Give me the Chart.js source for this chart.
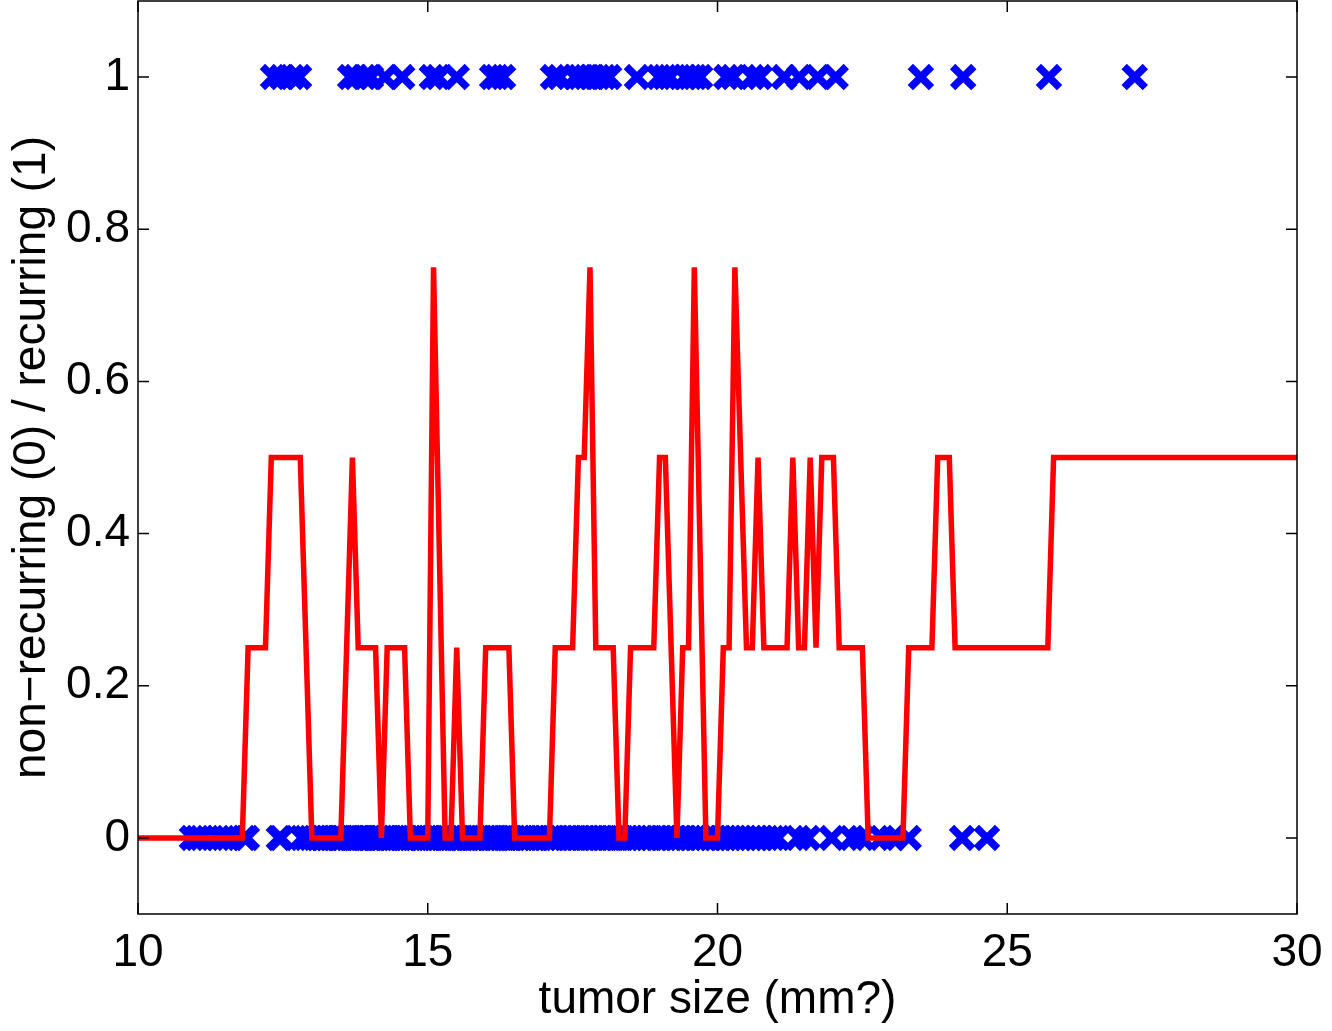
<!DOCTYPE html>
<html><head><meta charset="utf-8">
<script src="https://cdn.jsdelivr.net/npm/chart.js@4/dist/chart.umd.min.js"></script>
<style>html,body{margin:0;padding:0;background:#fff;} canvas{display:block;}</style>
</head><body>
<canvas id="c" width="1332" height="1031"></canvas>
<script>
// ---- data ----
const recurringX = [12.33, 12.48, 12.66, 12.78,
  13.66, 13.76, 13.90, 14.02, 14.26, 14.56,
  15.07, 15.18, 15.50,
  16.11, 16.19, 16.30,
  17.16, 17.28, 17.54, 17.63, 17.73, 17.83, 17.94, 18.04, 18.13,
  18.61, 18.99, 19.09, 19.18, 19.44, 19.53, 19.61, 19.70,
  20.15, 20.27, 20.60, 20.73, 21.15, 21.41, 21.73, 22.04,
  23.51, 24.24, 25.72, 27.20];
const nonRecurringX = [10.93, 11.02, 11.10, 11.38, 11.47, 11.55, 11.83, 11.88,
  12.43, 12.47, 12.83, 12.90, 12.98, 13.05, 13.11, 13.17, 13.20, 13.27, 13.34, 13.40,
  13.46, 13.50, 13.53, 13.61, 13.66, 13.70, 13.74, 13.80, 13.85, 13.90, 13.94, 14.00,
  14.06, 14.10, 14.15, 14.20, 14.27, 14.30, 14.36, 14.42, 14.48, 14.53, 14.60, 14.64,
  14.70, 14.75, 14.80, 14.86, 14.90, 14.97, 15.02, 15.08, 15.12, 15.19, 15.25, 15.30,
  15.33, 15.40, 15.45, 15.50, 15.56, 15.60, 15.66, 15.70, 15.76, 15.80, 15.87, 15.92,
  15.98, 16.04, 16.10, 16.16, 16.20, 16.27, 16.34, 16.40, 16.45, 16.50, 16.58, 16.63,
  16.70, 16.77, 16.84, 16.90, 16.95, 17.02, 17.10, 17.15, 17.22, 17.30, 17.38, 17.45,
  17.52, 17.60, 17.68, 17.75, 17.83, 17.90, 17.98, 18.05, 18.13, 18.20, 18.28, 18.36,
  18.44, 18.52, 18.60, 18.70, 18.78, 18.86, 18.95, 19.03, 19.10, 19.20, 19.28, 19.37,
  19.45, 19.53, 19.62, 19.70, 19.80, 19.88, 19.96, 20.05, 20.13, 20.22, 20.30, 20.40,
  20.48, 20.57, 20.66, 20.75, 20.85, 20.95,
  21.04, 21.39, 21.56, 21.97, 22.32, 22.49, 22.84, 23.02, 23.30,
  24.22, 24.65];
const fitX = [10, 11.8, 11.9, 12.2, 12.3, 12.8, 13.0, 13.5, 13.7, 13.8, 14.1, 14.2, 14.3, 14.6, 14.7,
  15.0, 15.1, 15.3, 15.4, 15.5, 15.6, 15.9, 16.0, 16.4, 16.5, 17.1, 17.2, 17.5, 17.6, 17.7,
  17.8, 17.9, 18.2, 18.3, 18.4, 18.5, 18.9, 19.0, 19.1, 19.3, 19.4, 19.5, 19.6, 19.8, 20.0,
  20.1, 20.2, 20.3, 20.5, 20.6, 20.7, 20.8, 21.2, 21.3, 21.4, 21.5, 21.6, 21.7, 21.8, 22.0,
  22.1, 22.5, 22.6, 23.2, 23.3, 23.7, 23.8, 24.0, 24.1, 25.7, 25.8, 30];
const fitY = [0, 0, 0.25, 0.25, 0.5, 0.5, 0, 0, 0.5, 0.25, 0.25, 0, 0.25, 0.25, 0,
  0, 0.75, 0, 0, 0.25, 0, 0, 0.25, 0.25, 0, 0, 0.25, 0.25, 0.5, 0.5,
  0.75, 0.25, 0.25, 0, 0, 0.25, 0.25, 0.5, 0.5, 0, 0.25, 0.25, 0.75, 0, 0,
  0.25, 0.25, 0.75, 0.25, 0.25, 0.5, 0.25, 0.25, 0.5, 0.25, 0.25, 0.5, 0.25, 0.5, 0.5,
  0.25, 0.25, 0, 0, 0.25, 0.25, 0.5, 0.5, 0.25, 0.25, 0.5, 0.5];
const xTicks = [10, 15, 20, 25, 30];
const yTicks = [0, 0.2, 0.4, 0.6, 0.8, 1];
const xLabel = 'tumor size (mm?)';
const yLabel = 'non\u2212recurring (0) / recurring (1)';

// ---- build ----
const FONT = 'Liberation Sans, Arial, Helvetica, sans-serif';
const FS = 46;
const scatterPts = recurringX.map(x => ({x, y: 1})).concat(nonRecurringX.map(x => ({x, y: 0})));
const fitPts = fitX.map((x, i) => ({x, y: fitY[i]}));

const boxTicks = {
  id: 'boxTicks',
  afterDraw(chart) {
    const {ctx, chartArea: a, scales: {x, y}} = chart;
    ctx.save();
    ctx.strokeStyle = '#000';
    ctx.lineWidth = 1.5;
    ctx.strokeRect(a.left, a.top, a.right - a.left, a.bottom - a.top);
    const L = 11;
    ctx.beginPath();
    xTicks.forEach(v => {
      const px = x.getPixelForValue(v);
      ctx.moveTo(px, a.bottom); ctx.lineTo(px, a.bottom - L);
      ctx.moveTo(px, a.top); ctx.lineTo(px, a.top + L);
    });
    yTicks.forEach(v => {
      const py = y.getPixelForValue(v);
      ctx.moveTo(a.left, py); ctx.lineTo(a.left + L, py);
      ctx.moveTo(a.right, py); ctx.lineTo(a.right - L, py);
    });
    ctx.stroke();
    ctx.restore();
  }
};

new Chart(document.getElementById('c'), {
  data: {
    datasets: [
      { type: 'line', data: fitPts, borderColor: '#ff0000', borderWidth: 5.5, pointRadius: 0,
        tension: 0, fill: false, order: 0 },
      { type: 'scatter', data: scatterPts, pointStyle: 'crossRot', pointRadius: 15, pointHoverRadius: 15,
        borderColor: '#0000ff', backgroundColor: '#0000ff', pointBorderWidth: 7.5, borderWidth: 7.5, order: 1 }
    ]
  },
  options: {
    responsive: false,
    devicePixelRatio: 1,
    animation: false,
    layout: { autoPadding: false, padding: { left: 0, right: 35, top: 1, bottom: 0 } },
    plugins: { legend: { display: false }, tooltip: { enabled: false } },
    scales: {
      x: {
        type: 'linear', min: 10, max: 30,
        afterBuildTicks: s => { s.ticks = xTicks.map(v => ({value: v})); },
        afterFit: s => { s.height = 117; s.paddingLeft = 0; s.paddingRight = 0; },
        grid: { display: false, drawTicks: false },
        border: { display: false },
        ticks: { color: '#000', font: { family: FONT, size: FS }, padding: 12, maxRotation: 0,
          callback: v => String(v) },
        title: { display: true, text: xLabel, color: '#000', font: { family: FONT, size: FS }, padding: { top: 0, bottom: 3 } }
      },
      y: {
        type: 'linear', min: -0.1, max: 1.1,
        afterBuildTicks: s => { s.ticks = yTicks.map(v => ({value: v})); },
        afterFit: s => { s.width = 138; s.paddingTop = 0; s.paddingBottom = 0; },
        grid: { display: false, drawTicks: false },
        border: { display: false },
        ticks: { color: '#000', font: { family: FONT, size: FS }, padding: 8,
          callback: v => String(v) },
        title: { display: true, text: yLabel, color: '#000', font: { family: FONT, size: FS }, padding: { top: 4.5, bottom: 0 } }
      }
    }
  },
  plugins: [boxTicks]
});
</script>
</body></html>
